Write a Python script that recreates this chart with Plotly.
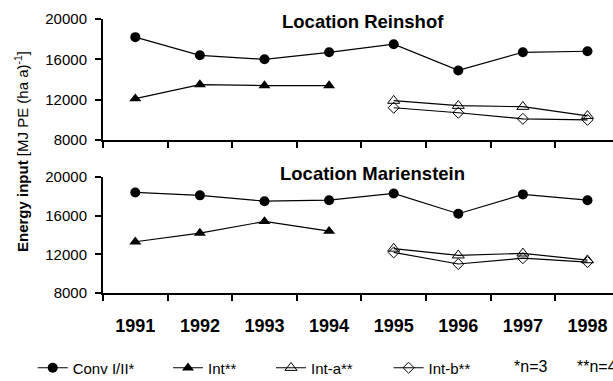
import plotly.graph_objects as go

years = ['1991', '1992', '1993', '1994', '1995', '1996', '1997', '1998']
years_int = years[:4]
years_ab = years[4:]

rein_conv = [18200, 16400, 16000, 16700, 17500, 14900, 16700, 16800]
rein_int = [12100, 13500, 13400, 13400]
rein_inta = [11900, 11400, 11300, 10400]
rein_intb = [11200, 10700, 10100, 10000]

mar_conv = [18400, 18100, 17500, 17600, 18300, 16200, 18200, 17600]
mar_int = [13300, 14200, 15400, 14400]
mar_inta = [12600, 11900, 12100, 11400]
mar_intb = [12200, 11000, 11600, 11200]

series_names = ['Conv I/II*', 'Int**', 'Int-a**', 'Int-b**']
y_ticks = [8000, 12000, 16000, 20000]

FONT = 'Liberation Sans, Arial, sans-serif'
W, H = 613, 381

styles = [
    dict(symbol='circle', size=10, color='black', line=dict(width=0)),
    dict(symbol='triangle-up', size=10.5, color='black', line=dict(width=0)),
    dict(symbol='triangle-up-open', size=10.5, color='black', line=dict(width=1, color='black')),
    dict(symbol='diamond-open', size=8.5, color='black', line=dict(width=1, color='black')),
]
legend_ids = ['legend', 'legend2', 'legend3', 'legend4']

fig = go.Figure()

panels = [
    ('x', 'y', [(years, rein_conv), (years_int, rein_int), (years_ab, rein_inta), (years_ab, rein_intb)], True),
    ('x2', 'y2', [(years, mar_conv), (years_int, mar_int), (years_ab, mar_inta), (years_ab, mar_intb)], False),
]
for xa, ya, data, show in panels:
    for i, (xs, ys) in enumerate(data):
        fig.add_trace(go.Scatter(
            x=xs, y=ys, xaxis=xa, yaxis=ya, mode='lines+markers',
            name=series_names[i], showlegend=show, legend=legend_ids[i],
            line=dict(color='black', width=1.2),
            marker=styles[i], hoverinfo='skip',
        ))

def px_y(p):
    return 1 - p / H

xdom = [103 / W, 1.0]
xrange = [-0.5, 7.395]
common_x = dict(type='category', categoryorder='array', categoryarray=years,
                range=xrange, domain=xdom, showline=True, linecolor='black', linewidth=2,
                ticks='outside', tickson='boundaries', ticklen=6, tickwidth=2, tickcolor='black',
                showgrid=False, zeroline=False, automargin=False)
common_y = dict(range=[8000, 20000], tickvals=y_ticks, tickformat='d',
                showline=True, linecolor='black', linewidth=2,
                ticks='outside', ticklen=6, tickwidth=2, tickcolor='black',
                showgrid=False, zeroline=False, automargin=False,
                ticklabelstandoff=5,
                tickfont=dict(family=FONT, size=15, color='black'))

fig.update_layout(
    width=W, height=H, margin=dict(l=0, r=0, t=0, b=0, autoexpand=False),
    paper_bgcolor='white', plot_bgcolor='white',
    font=dict(family=FONT, color='black'),
    xaxis=dict(common_x, anchor='y', showticklabels=False),
    yaxis=dict(common_y, anchor='x', domain=[px_y(140), px_y(19)]),
    xaxis2=dict(common_x, anchor='y2', showticklabels=True,
                tickfont=dict(family=FONT, size=18, color='black', weight='bold'),
                ticklabelstandoff=15),
    yaxis2=dict(common_y, anchor='x2', domain=[px_y(293), px_y(177)]),
)

leg_x = [32.7, 168, 271, 388.6]
for lid, lx in zip(legend_ids, leg_x):
    fig.update_layout({lid: dict(orientation='h', x=lx / W, xanchor='left',
                                 y=px_y(368), yanchor='middle',
                                 font=dict(family=FONT, size=15, color='black'),
                                 bgcolor='rgba(0,0,0,0)', borderwidth=0)})

annotations = [
    dict(text='<b>Location Reinshof</b>', x=280 / W, y=px_y(22), xanchor='left', yanchor='middle',
         font=dict(size=18.5)),
    dict(text='<b>Location Marienstein</b>', x=278 / W, y=px_y(173), xanchor='left', yanchor='middle',
         font=dict(size=18.5)),
    dict(text='<b>Energy input</b> [MJ PE (ha a)<sup>-1</sup>]', textangle=-90,
         x=21 / W, y=px_y(152), xanchor='center', yanchor='middle', font=dict(size=15)),
    dict(text='*n=3', x=512 / W, y=px_y(366), xanchor='left', yanchor='middle', font=dict(size=16)),
    dict(text='**n=4', x=575 / W, y=px_y(366), xanchor='left', yanchor='middle', font=dict(size=16)),
]
for a in annotations:
    a.update(xref='paper', yref='paper', showarrow=False)
    a['font'] = dict(family=FONT, color='black', **a['font'])
fig.update_layout(annotations=annotations)

fig.write_html('out.html', config={'displayModeBar': False},
               post_script="document.body.style.margin='0';document.body.style.overflow='hidden';")
